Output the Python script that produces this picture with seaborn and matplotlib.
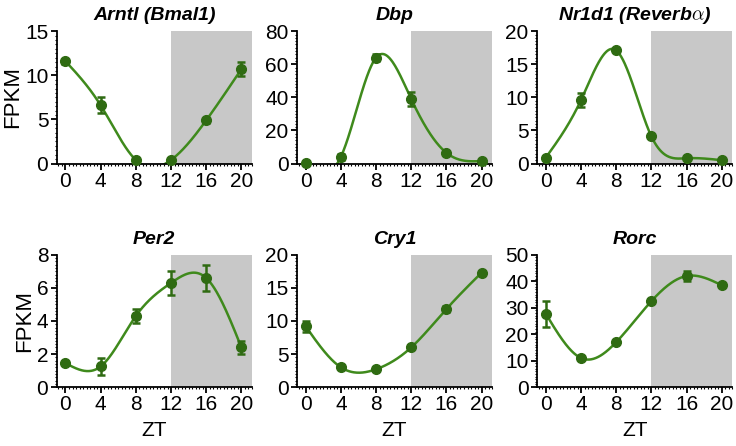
import numpy as np
import pandas as pd
import matplotlib
matplotlib.use('Agg')
import matplotlib.pyplot as plt
import seaborn as sns
from matplotlib.ticker import MultipleLocator, AutoMinorLocator

# Zeitgeber time points
zt = [0, 4, 8, 12, 16, 20]

# Mean FPKM and SEM per gene
arntl = [11.6, 6.6, 0.4, 0.4, 4.9, 10.7]
arntl_err = [0.3, 0.9, 0.2, 0.2, 0.3, 0.8]
dbp = [0.5, 4.0, 64.0, 39.0, 6.5, 1.5]
dbp_err = [0.5, 2.0, 2.0, 4.5, 1.0, 0.5]
nr1d1 = [0.9, 9.6, 17.1, 4.1, 0.8, 0.5]
nr1d1_err = [0.2, 1.1, 0.3, 0.3, 0.2, 0.1]
per2 = [1.45, 1.25, 4.3, 6.3, 6.6, 2.4]
per2_err = [0.1, 0.5, 0.45, 0.7, 0.8, 0.4]
cry1 = [9.2, 3.0, 2.7, 6.0, 11.8, 17.3]
cry1_err = [0.8, 0.3, 0.3, 0.3, 0.4, 0.3]
rorc = [27.7, 11.0, 17.0, 32.5, 42.0, 38.5]
rorc_err = [5.0, 0.8, 0.8, 0.8, 2.0, 0.8]

titles = ['Arntl (Bmal1)', 'Dbp', r'Nr1d1 (Reverb$\alpha$)', 'Per2', 'Cry1', 'Rorc']
means = [arntl, dbp, nr1d1, per2, cry1, rorc]
errs = [arntl_err, dbp_err, nr1d1_err, per2_err, cry1_err, rorc_err]
ytops = [15, 80, 20, 8, 20, 50]
ysteps = [5, 20, 5, 2, 5, 10]


def natural_spline(x, y, xs):
    # natural cubic spline through the points (like Prism's spline fit)
    x = np.asarray(x, float)
    y = np.asarray(y, float)
    n = len(x)
    h = np.diff(x)
    A = np.zeros((n, n))
    b = np.zeros(n)
    A[0, 0] = A[-1, -1] = 1
    for i in range(1, n - 1):
        A[i, i - 1] = h[i - 1]
        A[i, i] = 2 * (h[i - 1] + h[i])
        A[i, i + 1] = h[i]
        b[i] = 6 * ((y[i + 1] - y[i]) / h[i] - (y[i] - y[i - 1]) / h[i - 1])
    M = np.linalg.solve(A, b)
    idx = np.clip(np.searchsorted(x, xs) - 1, 0, n - 2)
    x0, x1 = x[idx], x[idx + 1]
    hh = x1 - x0
    t0, t1 = x1 - xs, xs - x0
    return (M[idx] * t0**3 / (6 * hh) + M[idx + 1] * t1**3 / (6 * hh)
            + (y[idx] / hh - M[idx] * hh / 6) * t0
            + (y[idx + 1] / hh - M[idx + 1] * hh / 6) * t1)


sns.set_theme(style='ticks')
plt.rcParams['font.family'] = ['Liberation Sans', 'DejaVu Sans']
plt.rcParams['mathtext.fontset'] = 'cm'
for key in ['text.color', 'axes.labelcolor', 'xtick.color', 'ytick.color']:
    plt.rcParams[key] = 'black'

line_color = '#3f8a1c'
dot_color = '#2f6b12'
shade = '#c8c8c8'

fig, axes = plt.subplots(2, 3, figsize=(7.36, 4.46), dpi=100)
fig.subplots_adjust(left=0.077, right=0.995, top=0.93, bottom=0.132, wspace=0.23, hspace=0.69)

for k, ax in enumerate(axes.flat):
    xs = np.linspace(0, 20, 300)
    curve = pd.DataFrame({'ZT': xs, 'FPKM': natural_spline(zt, means[k], xs)})
    ax.axvspan(12, 21.2, color=shade, lw=0, zorder=0)
    sns.lineplot(data=curve, x='ZT', y='FPKM', ax=ax, color=line_color, lw=1.8, zorder=2)
    eb = ax.errorbar(zt, means[k], yerr=errs[k], fmt='o', color=dot_color, ms=7,
                     elinewidth=1.8, capsize=3, capthick=1.8, zorder=3)
    for artist in eb.get_children():
        artist.set_clip_on(False)
    ax.set_xlim(-1, 21.2)
    ax.set_ylim(0, ytops[k])
    ax.set_xticks(zt)
    ax.yaxis.set_major_locator(MultipleLocator(ysteps[k]))
    ax.yaxis.set_minor_locator(AutoMinorLocator(10))
    ax.xaxis.set_minor_locator(MultipleLocator(0.4))
    ax.tick_params(which='major', labelsize=15, length=4, width=1.3, pad=2)
    ax.tick_params(which='minor', length=1.5, width=0.8)
    for s in ['left', 'bottom']:
        ax.spines[s].set_linewidth(1.3)
        ax.spines[s].set_color('black')
    sns.despine(ax=ax)
    ax.set_title(titles[k], fontsize=14, fontweight='bold', fontstyle='italic', pad=8)
    ax.set_xlabel('ZT' if k >= 3 else '', fontsize=15, labelpad=5)
    ax.set_ylabel('FPKM' if k % 3 == 0 else '', fontsize=16, labelpad=1)

plt.savefig('out.png', dpi=100)
